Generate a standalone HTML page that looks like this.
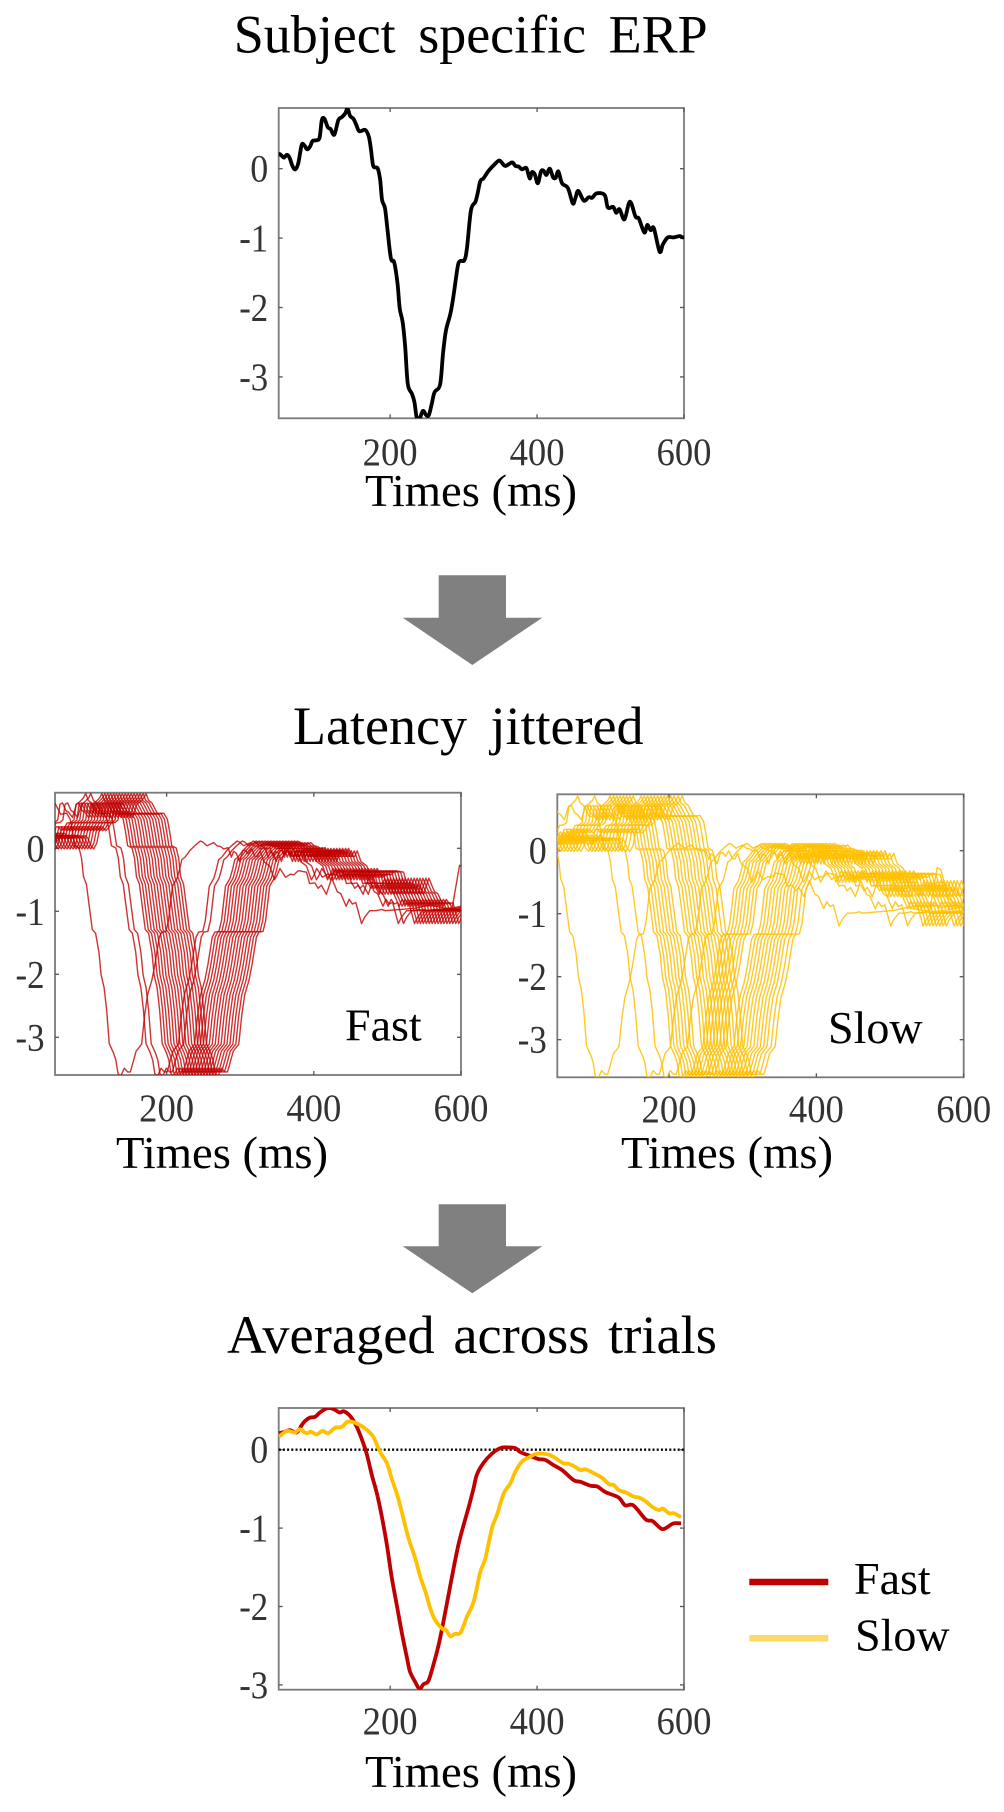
<!DOCTYPE html>
<html lang="en">
<head>
<meta charset="utf-8">
<title>Subject specific ERP figure</title>
<style>
html,body{margin:0;padding:0;background:#fff;}
svg{display:block;}
text{font-family:"Liberation Serif",serif;fill:#000;}
.tick{font-size:39px;fill:#333;}
.axis-title{font-size:46px;fill:#000;}
.main-title{font-size:54px;fill:#000;}
.label{font-size:46px;fill:#000;}
</style>
</head>
<body>
<svg id="fig" xmlns="http://www.w3.org/2000/svg" width="1004" height="1812" viewBox="0 0 1004 1812">
  <rect x="0" y="0" width="1004" height="1812" fill="#fff"/>
  <text class="main-title" x="233.7" y="52.5" style="word-spacing:9px" textLength="474" lengthAdjust="spacingAndGlyphs">Subject specific ERP</text>
  <text class="main-title" x="293" y="744" style="word-spacing:10px" textLength="350.5" lengthAdjust="spacingAndGlyphs">Latency jittered</text>
  <text class="main-title" x="227" y="1353" style="word-spacing:5px" textLength="490" lengthAdjust="spacingAndGlyphs">Averaged across trials</text>

  <polygon fill="#808080" points="438.7,575.3 506,575.3 506,617.7 542.3,617.7 472.3,665 402.7,617.7 438.7,617.7"/>
  <polygon fill="#808080" points="438.7,1204.3 506,1204.3 506,1246.3 542.3,1246.3 472.3,1293.3 402.7,1246.3 438.7,1246.3"/>

  <text class="label" x="345" y="1040.7">Fast</text>
  <text class="label" x="828" y="1043">Slow</text>

  <line x1="749.3" x2="828.3" y1="1582" y2="1582" stroke="#c00000" stroke-width="6.5"/>
  <text class="label" x="854" y="1594">Fast</text>
  <line x1="749.3" x2="828.3" y1="1638.3" y2="1638.3" stroke="#ffd966" stroke-width="6.5"/>
  <text class="label" x="855" y="1650.7">Slow</text>
</svg>
<script>
const xTicks = [200, 400, 600];
const yTicks = [0, -1, -2, -3];
const xAxisTitle = "Times (ms)";

const erpTimes = [-30,-20,-10,0,10,20,30,40,48.6,52,55.5,59.5,63,67,70.9,75,79.5,83,87,91,94.5,100,104,107,110.5,115,119,124,129.5,134,139,142,145.5,150,153.6,158,166,171,174,177,183,186.4,189,193,196.4,201,205.5,210,213,217,220.5,224,229.5,233,236,239.5,244.5,249,252.7,256.8,260.5,268,272,276,282,286,292,295.5,301,304.5,310,316,319,322.7,327,334,341,347.7,351,356.8,366,370.4,375,379.5,385.4,390,393,396.8,401,405.4,409,412.7,417.2,421.8,425.4,429,434,442,448.6,452,456,463.6,470.4,475,481,492,496.3,503.6,507.7,512.3,519,526.3,534,538.6,546,550,554.5,559,566.8,571.3,578,586,594.5,599,620,640,660,680,690,700,705,715,730,750];
const erpValues = [0.2,0.1,0.25,0.15,0.3,0.1,0.25,0.15,0.21,0.19,0.16,0.2,0.16,0.04,-0.01,0.08,0.34,0.34,0.28,0.32,0.4,0.41,0.45,0.7,0.72,0.6,0.57,0.49,0.7,0.74,0.8,0.87,0.76,0.72,0.64,0.54,0.56,0.46,0.27,0.04,0.005,-0.16,-0.45,-0.57,-0.88,-1.29,-1.35,-1.65,-2.01,-2.21,-2.57,-3.1,-3.24,-3.36,-3.58,-3.62,-3.49,-3.55,-3.55,-3.38,-3.22,-3.11,-2.66,-2.33,-2.09,-1.85,-1.41,-1.33,-1.32,-1.15,-0.6,-0.48,-0.36,-0.18,-0.14,-0.03,0.05,0.115,0.1,0.04,0.09,0.04,0.03,-0.01,0.01,-0.14,-0.05,-0.08,-0.21,-0.04,-0.03,-0.09,0,-0.125,-0.13,-0.04,-0.21,-0.28,-0.5,-0.43,-0.32,-0.46,-0.41,-0.42,-0.355,-0.38,-0.56,-0.55,-0.635,-0.585,-0.73,-0.475,-0.69,-0.72,-0.92,-0.81,-0.885,-0.86,-1.195,-1.09,-0.99,-0.99,-0.97,-0.99,-0.97,-0.95,-0.9,-0.95,-0.95,-0.27,-0.3,-0.75,-0.9,-0.9];

const fastTrialShifts = [-102,-52,-45,-30,-26,-22,-18,-14,-10,-6,-2,2,6,10,14,18,22,26,30];
const slowTrialShifts = [-136,-66,-43,-22,-17.5,-13,-8.5,-4,0.5,5,9.5,20,24.5,29,33.5,38,42.5,47,51.5,56,60.5,65,70.5,76];

const fastAvgTimes = [48.6,57,63.6,72.7,79.5,84,91,98,104.5,114.5,122.7,131,137,145.5,153.6,161,168,175,182,188.6,195.5,202,209,216,223,227,234,240,245.5,252,259,266,273,279.5,286,293,300,307,313.6,318,327,338.6,350,359,370.5,377,391,402,411,423,434,450,459,473,482,493,511,520,531,548,557,569.5,577,585.5,596];
const fastAvgValues = [0.21,0.23,0.25,0.22,0.31,0.365,0.41,0.42,0.475,0.53,0.52,0.475,0.49,0.43,0.31,0.145,-0.05,-0.32,-0.56,-0.85,-1.21,-1.62,-1.98,-2.34,-2.66,-2.83,-2.96,-3.05,-2.99,-2.95,-2.74,-2.49,-2.17,-1.85,-1.53,-1.21,-0.96,-0.73,-0.49,-0.32,-0.17,-0.05,0.02,0.03,0.02,-0.03,-0.08,-0.12,-0.13,-0.2,-0.26,-0.39,-0.41,-0.46,-0.47,-0.54,-0.61,-0.71,-0.71,-0.89,-0.91,-1.01,-0.99,-0.94,-0.94];

const slowAvgTimes = [48.6,54.5,61,70.5,77,86,92,100,108,116,125,134,143,154.5,166,177,186,195.5,202,211,218,225,234,241,248,254.5,261,270.5,276,282,288,296,304.5,313.6,322.7,329.5,338.6,345.5,354.5,363.6,370.5,379.5,388.6,397.7,406.8,418,427,436,443,452,459,466,477,488.6,498,504.5,511,520.5,532,538.6,548,557,566,571,579.5,586,596];
const slowAvgValues = [0.165,0.21,0.24,0.22,0.26,0.21,0.23,0.195,0.24,0.21,0.28,0.29,0.36,0.335,0.27,0.165,-0.025,-0.17,-0.365,-0.62,-0.875,-1.13,-1.38,-1.62,-1.81,-2.02,-2.17,-2.28,-2.3,-2.38,-2.35,-2.33,-2.13,-1.94,-1.56,-1.39,-1,-0.83,-0.56,-0.43,-0.28,-0.15,-0.1,-0.055,-0.05,-0.07,-0.12,-0.175,-0.18,-0.22,-0.26,-0.25,-0.3,-0.36,-0.44,-0.45,-0.515,-0.545,-0.6,-0.61,-0.66,-0.73,-0.77,-0.75,-0.81,-0.81,-0.86];

const svg = document.getElementById('fig');
const NS = 'http://www.w3.org/2000/svg';

function make(tag, parent) {
  const el = document.createElementNS(NS, tag);
  parent.appendChild(el);
  return el;
}

function makeScales(p) {
  const pxPerMs = (p.right - p.left) / (p.xMax - p.xMin);
  return {
    x: function (ms) { return p.left + (ms - p.xMin) * pxPerMs; },
    y: function (v) { return p.zeroY - v * p.unit; }
  };
}

function drawAxes(p, prefix) {
  const s = makeScales(p);
  const g = make('g', svg);
  
  

  const clip = make('clipPath', g);
  clip.setAttribute('id', prefix + '-clip');
  const clipRect = make('rect', clip);
  clipRect.setAttribute('x', p.left);
  clipRect.setAttribute('y', p.top);
  clipRect.setAttribute('width', p.right - p.left);
  clipRect.setAttribute('height', p.bottom - p.top);

  const frame = make('rect', g);
  
  
  frame.setAttribute('x', p.left);
  frame.setAttribute('y', p.top);
  frame.setAttribute('width', p.right - p.left);
  frame.setAttribute('height', p.bottom - p.top);
  frame.setAttribute('fill', 'none');
  frame.setAttribute('stroke', '#7a7a7a');
  frame.setAttribute('stroke-width', '1.8');

  xTicks.forEach(function (t) {
    const px = s.x(t);
    [[p.top, p.top + 4], [p.bottom, p.bottom - 4]].forEach(function (pair) {
      const tk = make('line', g);
      
      
      tk.setAttribute('x1', px);
      tk.setAttribute('x2', px);
      tk.setAttribute('y1', pair[0]);
      tk.setAttribute('y2', pair[1]);
      tk.setAttribute('stroke', '#555');
      tk.setAttribute('stroke-width', '1.3');
    });
    const lab = make('text', g);
    
    
    lab.setAttribute('class', 'tick');
    lab.setAttribute('x', px);
    lab.setAttribute('y', p.xLabelY);
    lab.setAttribute('text-anchor', 'middle');
    lab.setAttribute('textLength', '55');
    lab.setAttribute('lengthAdjust', 'spacingAndGlyphs');
    lab.textContent = String(t);
  });

  yTicks.forEach(function (t) {
    const py = s.y(t);
    [[p.left, p.left + 4], [p.right, p.right - 4]].forEach(function (pair) {
      const tk = make('line', g);
      
      
      tk.setAttribute('x1', pair[0]);
      tk.setAttribute('x2', pair[1]);
      tk.setAttribute('y1', py);
      tk.setAttribute('y2', py);
      tk.setAttribute('stroke', '#555');
      tk.setAttribute('stroke-width', '1.3');
    });
    const lab = make('text', g);
    
    
    lab.setAttribute('class', 'tick');
    lab.setAttribute('x', p.left - 10.5);
    lab.setAttribute('y', py + 13);
    lab.setAttribute('text-anchor', 'end');
    lab.setAttribute('textLength', t === 0 ? '18' : '29');
    lab.setAttribute('lengthAdjust', 'spacingAndGlyphs');
    lab.textContent = String(t);
  });

  const title = make('text', g);
  
  
  title.setAttribute('class', 'axis-title');
  title.setAttribute('x', p.titleX);
  title.setAttribute('y', p.titleY);
  title.setAttribute('textLength', '212');
  title.setAttribute('lengthAdjust', 'spacingAndGlyphs');
  title.textContent = xAxisTitle;
  return s;
}

function pathFrom(times, values, s, shift) {
  return times.map(function (t, i) {
    return (i ? 'L' : 'M') + s.x(t + shift).toFixed(2) + ' ' + s.y(values[i]).toFixed(2);
  }).join(' ');
}

function smoothPathFrom(times, values, s) {
  const xs = times.map(function (t) { return s.x(t); });
  const ys = values.map(function (v) { return s.y(v); });
  let d = 'M' + xs[0].toFixed(2) + ' ' + ys[0].toFixed(2);
  for (let i = 0; i < xs.length - 1; i++) {
    const a = Math.max(i - 1, 0);
    const b = Math.min(i + 2, xs.length - 1);
    const c1x = xs[i] + (xs[i + 1] - xs[a]) / 6;
    const c1y = ys[i] + (ys[i + 1] - ys[a]) / 6;
    const c2x = xs[i + 1] - (xs[b] - xs[i]) / 6;
    const c2y = ys[i + 1] - (ys[b] - ys[i]) / 6;
    d += ' C' + c1x.toFixed(2) + ' ' + c1y.toFixed(2) + ' ' + c2x.toFixed(2) + ' ' + c2y.toFixed(2) + ' ' + xs[i + 1].toFixed(2) + ' ' + ys[i + 1].toFixed(2);
  }
  return d;
}

function drawSeries(prefix, d, color, width, opacity) {
  const path = make('path', svg);
  path.setAttribute('d', d);
  path.setAttribute('fill', 'none');
  path.setAttribute('stroke', color);
  path.setAttribute('stroke-width', width);
  path.setAttribute('stroke-linejoin', 'round');
  path.setAttribute('stroke-opacity', opacity);
  path.setAttribute('clip-path', 'url(#' + prefix + '-clip)');
  return path;
}

const topPanel = {left:278.7,right:684,top:108,bottom:418.3,zeroY:168.7,unit:69.4,xMin:48.3,xMax:600,xLabelY:465,titleX:365,titleY:506};
const fastPanel = {left:55,right:461,top:792.7,bottom:1075,zeroY:848.3,unit:63,xMin:48.3,xMax:600,xLabelY:1121,titleX:116,titleY:1168};
const slowPanel = {left:557.3,right:963.7,top:794.3,bottom:1077.3,zeroY:850.7,unit:63,xMin:48.3,xMax:600,xLabelY:1122,titleX:621,titleY:1168};
const avgPanel = {left:278.7,right:684,top:1408,bottom:1689.7,zeroY:1449.7,unit:78.4,xMin:48.3,xMax:600,xLabelY:1734,titleX:365,titleY:1787};

const sTop = drawAxes(topPanel, 'erp-panel');
const erpLine = drawSeries('erp-panel', smoothPathFrom(erpTimes, erpValues, sTop), '#000', 3.8, 1);



const sFast = drawAxes(fastPanel, 'fast-panel');
fastTrialShifts.forEach(function (shift) {
  const tr = drawSeries('fast-panel', pathFrom(erpTimes, erpValues, sFast, shift), '#c00000', 1.4, 0.8);
  
  
});

const sSlow = drawAxes(slowPanel, 'slow-panel');
slowTrialShifts.forEach(function (shift) {
  const tr = drawSeries('slow-panel', pathFrom(erpTimes, erpValues, sSlow, shift), '#ffc000', 1.4, 0.85);
  
  
});

const sAvg = drawAxes(avgPanel, 'average-panel');
const zeroLine = make('line', svg);


zeroLine.setAttribute('x1', avgPanel.left);
zeroLine.setAttribute('x2', avgPanel.right);
zeroLine.setAttribute('y1', sAvg.y(0));
zeroLine.setAttribute('y2', sAvg.y(0));
zeroLine.setAttribute('stroke', '#000');
zeroLine.setAttribute('stroke-width', '2.4');
zeroLine.setAttribute('stroke-dasharray', '2 2.2');

const fastAvgLine = drawSeries('average-panel', smoothPathFrom(fastAvgTimes, fastAvgValues, sAvg), '#c00000', 3.8, 1);



const slowAvgLine = drawSeries('average-panel', smoothPathFrom(slowAvgTimes, slowAvgValues, sAvg), '#ffc000', 3.8, 1);


</script>
</body>
</html>
